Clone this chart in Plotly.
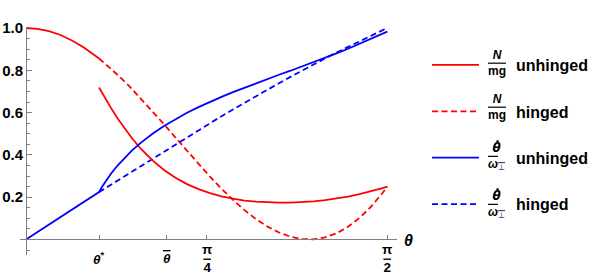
import numpy as np
import plotly.graph_objects as go

# ---------------- data ----------------
theta_star = 0.3174
theta_bar = 0.612

# common part before theta* (both configurations coincide)
theta_pre = [0.0, 0.05, 0.10, 0.15, 0.20, 0.25, 0.30, 0.3174]
n_pre = [1.000, 0.996, 0.985, 0.967, 0.941, 0.909, 0.870, 0.856]
w_pre = [0.000, 0.035, 0.071, 0.106, 0.141, 0.176, 0.211, 0.224]

# hinged (dashed) after theta*
theta_hinged = [0.3174, 0.35, 0.40, 0.45, 0.50, 0.55, 0.60, 0.65, 0.70, 0.75, 0.80,
                0.85, 0.90, 0.95, 1.00, 1.05, 1.10, 1.15, 1.20, 1.25, 1.30, 1.35,
                1.40, 1.45, 1.50, 1.55, 1.5708]
n_hinged = [0.856, 0.826, 0.777, 0.724, 0.666, 0.607, 0.545, 0.482, 0.419, 0.357, 0.297,
            0.240, 0.187, 0.139, 0.096, 0.061, 0.033, 0.013, 0.002, 0.001, 0.010, 0.029,
            0.060, 0.102, 0.155, 0.220, 0.250]
w_hinged = [0.224, 0.246, 0.281, 0.316, 0.350, 0.384, 0.418, 0.452, 0.485, 0.518, 0.551,
            0.583, 0.615, 0.647, 0.678, 0.709, 0.739, 0.769, 0.799, 0.827, 0.856, 0.884,
            0.911, 0.938, 0.964, 0.990, 1.000]

# unhinged (solid) after theta*
theta_unhinged = [0.3174, 0.33, 0.35, 0.37, 0.40, 0.43, 0.46, 0.50, 0.55, 0.60, 0.65,
                  0.70, 0.75, 0.80, 0.85, 0.90, 0.95, 1.00, 1.05, 1.10, 1.15, 1.20,
                  1.25, 1.30, 1.35, 1.40, 1.45, 1.50, 1.55, 1.5708]
n_unhinged = [0.719, 0.694, 0.657, 0.621, 0.570, 0.522, 0.480, 0.428, 0.374, 0.329, 0.292,
              0.262, 0.238, 0.219, 0.204, 0.193, 0.184, 0.179, 0.175, 0.174, 0.174, 0.176,
              0.180, 0.186, 0.193, 0.203, 0.214, 0.227, 0.243, 0.250]
w_unhinged = [0.224, 0.248, 0.282, 0.312, 0.352, 0.388, 0.420, 0.458, 0.500, 0.537, 0.569,
              0.599, 0.626, 0.651, 0.674, 0.697, 0.718, 0.738, 0.759, 0.779, 0.798, 0.818,
              0.839, 0.859, 0.880, 0.902, 0.925, 0.948, 0.972, 0.983]

x_tickvals = [theta_star, theta_bar, np.pi / 4, np.pi / 2]
x_ticktext = ["<b><i>θ</i></b><sup><b>*</b></sup>",
              "<b><i><span style='text-decoration:overline'>θ</span></i></b>",
              "<b>π</b><br><b><span style='text-decoration:overline'>4</span></b>",
              "<b>π</b><br><b><span style='text-decoration:overline'>2</span></b>"]
y_tickvals = [0.2, 0.4, 0.6, 0.8, 1.0]
y_ticktext = ["0.2", "0.4", "0.6", "0.8", "1.0"]

frac_N = "<b><i>N</i></b><br><b><span style='text-decoration:overline'>mg</span></b>"
frac_W = ("<b><i><span style='font-family:DejaVu Sans'>θ̇</span></i></b><br>"
          "<span style='text-decoration:overline'><b><i>ω</i></b><sub>⊥</sub></span>")
legend_fracs = [frac_N, frac_N, frac_W, frac_W]
legend_words = ["unhinged", "hinged", "unhinged", "hinged"]

# ---------------- layout geometry ----------------
W, H = 599, 275
ML, MR, MT, MB = 20, 202, 27, 20
xr = [-0.0261, 1.6130]
yr = [-0.0733, 1.0047]
FONT = "Liberation Sans, Arial, sans-serif"
RED, BLUE = "#ff0000", "#0000ff"
AX = "#808080"
DASH = "6px,3.5px"
LW = 1.8
PAD = "\u2003\u2003"


def px(xp):
    return (xp - ML) / (W - ML - MR)


def py(yp):
    return (H - MB - yp) / (H - MT - MB)


fig = go.Figure()

# draw order: dashed (hinged) below solid (unhinged)
fig.add_trace(go.Scatter(x=theta_hinged, y=n_hinged, mode="lines",
                         name=PAD + "<b>%s</b>" % legend_words[1],
                         line=dict(color=RED, width=LW, dash=DASH),
                         legendgroup="b", legendrank=2))
fig.add_trace(go.Scatter(x=theta_hinged, y=w_hinged, mode="lines",
                         name=PAD + "<b>%s</b>" % legend_words[3],
                         line=dict(color=BLUE, width=LW, dash=DASH),
                         legendgroup="d", legendrank=4))
fig.add_trace(go.Scatter(x=theta_pre + [None] + theta_unhinged,
                         y=n_pre + [None] + n_unhinged, mode="lines",
                         name=PAD + "<b>%s</b>" % legend_words[0],
                         connectgaps=False,
                         line=dict(color=RED, width=LW),
                         legendgroup="a", legendrank=1))
fig.add_trace(go.Scatter(x=theta_pre + theta_unhinged, y=w_pre + w_unhinged,
                         mode="lines", name=PAD + "<b>%s</b>" % legend_words[2],
                         line=dict(color=BLUE, width=LW),
                         legendgroup="c", legendrank=3))

fig.update_layout(
    width=W, height=H,
    margin=dict(l=ML, r=MR, t=MT, b=MB, pad=0, autoexpand=False),
    paper_bgcolor="white", plot_bgcolor="white",
    font=dict(family=FONT, color="black"),
    showlegend=True,
    legend=dict(xref="container", yref="container", x=427 / W, y=1 - 48 / H,
                xanchor="left", yanchor="top",
                font=dict(size=16, family=FONT, color="black"),
                tracegroupgap=22.6, itemwidth=47, bgcolor="rgba(0,0,0,0)",
                borderwidth=0, traceorder="grouped", maxheight=270),
    xaxis=dict(range=xr, anchor="free", position=(0 - yr[0]) / (yr[1] - yr[0]),
               showline=True, linecolor=AX, linewidth=1, showgrid=False, zeroline=False,
               tickvals=x_tickvals, showticklabels=False, ticks="inside", ticklen=4,
               tickcolor=AX, fixedrange=True),
    yaxis=dict(range=yr, anchor="free", position=(0 - xr[0]) / (xr[1] - xr[0]),
               showline=True, linecolor=AX, linewidth=1, showgrid=False, zeroline=False,
               tickvals=y_tickvals, ticktext=["<b>%s</b>" % t for t in y_ticktext],
               ticks="inside", ticklen=5, tickcolor=AX,
               tickfont=dict(size=15, family=FONT, color="black"),
               minor=dict(dtick=0.05, tick0=0, ticks="inside", ticklen=3, tickcolor=AX),
               fixedrange=True),
)

ann = []
# x tick labels
for v, t in zip(x_tickvals, x_ticktext):
    ann.append(dict(x=v, xref="x", y=py(258), yref="paper", text=t, showarrow=False,
                    xanchor="center", yanchor="middle",
                    font=dict(size=13.5, family=FONT, color="black")))
# axis label
ann.append(dict(x=px(409), xref="paper", y=py(240), yref="paper",
                text="<b><i>θ</i></b>", showarrow=False, xanchor="center", yanchor="middle",
                font=dict(size=16, family=FONT, color="black")))
# legend fractions
rows = [63, 107, 156, 204]
for r, fr in zip(rows, legend_fracs):
    ann.append(dict(x=px(497), xref="paper", y=py(r), yref="paper", text=fr,
                    showarrow=False, xanchor="center", yanchor="middle",
                    font=dict(size=12, family=FONT, color="black")))
fig.update_layout(annotations=ann)

fig.write_html("out.html", config={"displayModeBar": False},
               post_script="document.body.style.margin='0px';")
